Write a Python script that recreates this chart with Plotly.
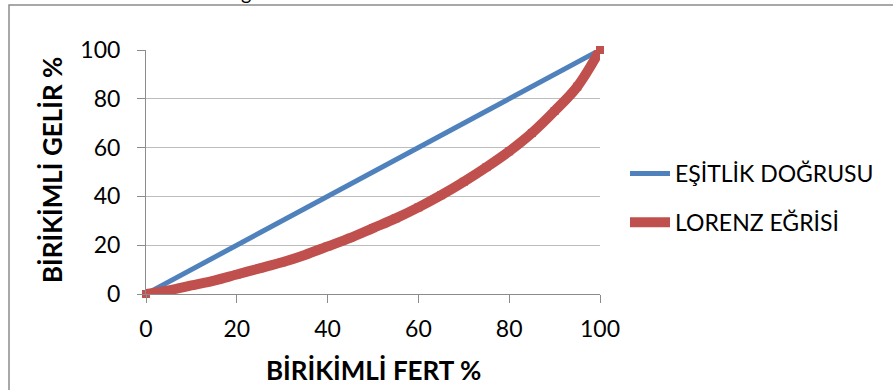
import plotly.graph_objects as go

# Data
x_equal = [0, 10, 20, 30, 40, 50, 60, 70, 80, 90, 100]
y_equal = [0, 10, 20, 30, 40, 50, 60, 70, 80, 90, 100]

x_lorenz = [0, 5, 10, 15, 20, 25, 30, 35, 40, 45, 50, 55, 60, 65, 70, 75, 80, 85, 90, 95, 100]
y_lorenz = [0, 1.5, 3.5, 5.5, 8, 10.5, 13, 16, 19.5, 23, 27, 31, 35.5, 40.5, 46, 52, 58.5, 66, 75, 85, 100]

x_ticks = [0, 20, 40, 60, 80, 100]
y_ticks = [0, 20, 40, 60, 80, 100]

name_equal = "EŞİTLİK DOĞRUSU"
name_lorenz = "LORENZ EĞRİSİ"
x_title = "BİRİKİMLİ FERT %"
y_title = "BİRİKİMLİ GELİR %"

W, H = 893, 390
L, R, T, B = 146, 293, 50, 96
pw, ph = W - L - R, H - T - B

def px_x(p):
    return (p - L) / pw

def px_y(p):
    return (H - B - p) / ph

FONT = "Lato, 'Open Sans', sans-serif"
BLUE = "#4F81BD"
RED = "#C0504D"

fig = go.Figure()
fig.add_trace(go.Scatter(
    x=x_equal, y=y_equal, name=name_equal, mode="lines", legendgroup="a",
    line=dict(color=BLUE, width=5), cliponaxis=False,
))
fig.add_trace(go.Scatter(
    x=x_lorenz, y=y_lorenz, name=name_lorenz, mode="lines+markers", legendgroup="b",
    line=dict(color=RED, width=10, shape="spline"),
    marker=dict(symbol="square", size=8, color=RED),
    cliponaxis=False,
))

axis_common = dict(
    range=[0, 100], showline=True, linecolor="#8C8C8C", linewidth=1,
    ticks="outside", ticklen=8, tickcolor="#8C8C8C", tickwidth=1,
    tickfont=dict(family=FONT, size=23, color="#000000"),
    zeroline=False, fixedrange=True,
)
fig.update_xaxes(tickvals=x_ticks, showgrid=False, ticklabelstandoff=6, **axis_common)
fig.update_yaxes(tickvals=y_ticks, showgrid=True, gridcolor="#BDBDBD", gridwidth=1,
                 ticklabelstandoff=12, **axis_common)

fig.update_layout(
    width=W, height=H,
    margin=dict(l=L, r=R, t=T, b=B),
    paper_bgcolor="white", plot_bgcolor="white",
    showlegend=True,
    legend=dict(
        x=px_x(625), y=px_y(152), xanchor="left", yanchor="top",
        font=dict(family=FONT, size=23, color="#000000"),
        itemwidth=40, traceorder="grouped", tracegroupgap=16,
        bgcolor="rgba(0,0,0,0)",
    ),
    annotations=[
        dict(text="<b>" + x_title + "</b>", xref="paper", yref="paper",
             x=px_x(373), y=px_y(370), xanchor="center", yanchor="middle",
             showarrow=False, font=dict(family=FONT, size=26, color="#000000")),
        dict(text="<b>" + y_title + "</b>", xref="paper", yref="paper",
             x=px_x(52), y=px_y(170), xanchor="center", yanchor="middle",
             textangle=-90, showarrow=False,
             font=dict(family=FONT, size=26, color="#000000")),
        dict(text="g", xref="paper", yref="paper",
             x=px_x(246), y=px_y(6), xanchor="center", yanchor="bottom",
             showarrow=False, font=dict(family=FONT, size=20, color="#000000")),
    ],
    shapes=[
        dict(type="rect", xref="paper", yref="paper",
             x0=px_x(9), x1=px_x(960), y0=px_y(430), y1=px_y(5),
             line=dict(color="#8C8C8C", width=1.5), layer="below"),
    ],
)

fig.write_html("out.html", config={"displayModeBar": False},
               post_script="document.body.style.margin='0px';")
